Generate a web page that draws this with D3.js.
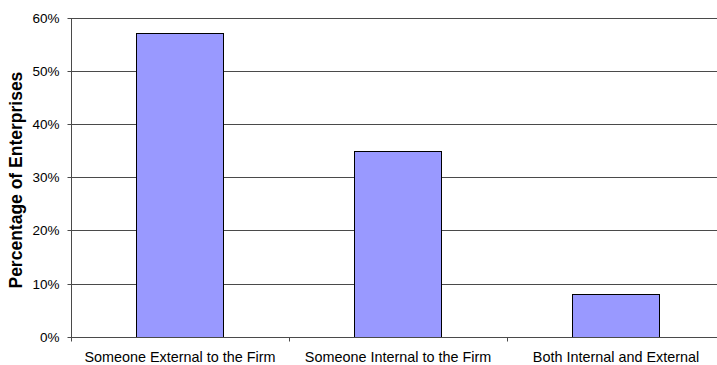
<!DOCTYPE html>
<html>
<head>
<meta charset="utf-8">
<script src="https://cdn.jsdelivr.net/npm/d3@7"></script>
<style>
  html, body { margin: 0; padding: 0; background: #fff; }
  svg { display: block; }
</style>
</head>
<body>
<svg id="chart" width="717" height="365"></svg>
<script>
// Who carries out the work: share of enterprises
const categories = ["Someone External to the Firm", "Someone Internal to the Firm", "Both Internal and External"];
const shares = [0.57, 0.35, 0.08];
const yTicks = [0, 0.1, 0.2, 0.3, 0.4, 0.5, 0.6];
const yTitle = "Percentage of Enterprises";

const svg = d3.select("#chart");
const plotLeft = 71, plotRight = 725, plotTop = 17.5, plotBottom = 336.7;
const fontFamily = "Arial, 'Liberation Sans', sans-serif";

const x = d3.scaleBand().domain(categories).range([plotLeft, plotRight]).paddingInner(0.6).paddingOuter(0.3);
const y = d3.scaleLinear().domain([0, 0.6]).range([plotBottom, plotTop]);
const py = v => Math.round(y(v)) + 0.5;

// gridlines
svg.append("g")
  .selectAll("line")
  .data(yTicks.filter(d => d > 0))
  .join("line")
  .attr("x1", plotLeft).attr("x2", plotRight)
  .attr("y1", py).attr("y2", py)
  .attr("stroke", "#4a4a4a").attr("stroke-width", 1);

// bars
svg.append("g")
  .selectAll("rect")
  .data(categories)
  .join("rect")
  .attr("x", d => Math.round(x(d)) + 0.5)
  .attr("y", (d, i) => py(shares[i]))
  .attr("width", Math.round(x.bandwidth()))
  .attr("height", (d, i) => py(0) - py(shares[i]))
  .attr("fill", "#9999ff")
  .attr("stroke", "#000").attr("stroke-width", 1);

// y axis
const yAxis = svg.append("g")
  .attr("transform", `translate(${plotLeft + 0.5},0)`)
  .call(d3.axisLeft(y).tickValues(yTicks).tickFormat(d3.format(".0%")).tickSize(4).tickPadding(8));
yAxis.select(".domain").attr("stroke", "#4a4a4a").attr("d", `M0,${py(0.6)}V${py(0)}`);
yAxis.selectAll(".tick").attr("transform", d => `translate(0,${py(d)})`);
yAxis.selectAll(".tick line").attr("stroke", "#4a4a4a");
yAxis.selectAll(".tick text")
  .attr("font-family", fontFamily)
  .attr("font-size", 13.5).attr("fill", "#000");

// x axis with tick marks at category boundaries
const band = (plotRight - plotLeft) / categories.length;
const xb = svg.append("g");
xb.append("line")
  .attr("x1", plotLeft).attr("x2", plotRight)
  .attr("y1", py(0)).attr("y2", py(0))
  .attr("stroke", "#4a4a4a");
xb.selectAll("line.tk")
  .data(d3.range(categories.length + 1))
  .join("line").attr("class", "tk")
  .attr("x1", i => Math.round(plotLeft + i * band) + 0.5).attr("x2", i => Math.round(plotLeft + i * band) + 0.5)
  .attr("y1", py(0)).attr("y2", py(0) + 4)
  .attr("stroke", "#4a4a4a");
xb.selectAll("text")
  .data(categories)
  .join("text")
  .attr("x", d => x(d) + x.bandwidth() / 2)
  .attr("y", 362)
  .attr("text-anchor", "middle")
  .attr("font-family", fontFamily)
  .attr("font-size", 14.4).attr("fill", "#000")
  .text(d => d);

// y title
svg.append("text")
  .attr("transform", `translate(22,${(plotTop + plotBottom) / 2 + 3}) rotate(-90)`)
  .attr("text-anchor", "middle")
  .attr("font-family", fontFamily)
  .attr("font-size", 17.5).attr("font-weight", "bold").attr("fill", "#000")
  .text(yTitle);
</script>
</body>
</html>
